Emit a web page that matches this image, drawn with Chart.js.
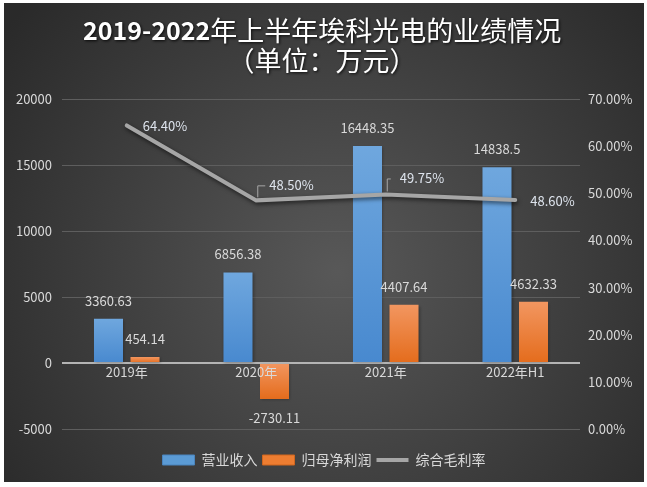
<!DOCTYPE html>
<html>
<head>
<meta charset="UTF-8">
<title>埃科光电业绩情况</title>
<script src="https://cdn.jsdelivr.net/npm/chart.js@4.4.0/dist/chart.umd.min.js"></script>
<style>
  html, body { margin: 0; padding: 0; background: #ffffff; }
  /* 暗色图表区域，四周留一圈白边 */
  #container { position: absolute; left: 4px; top: 3px; width: 640px; height: 479px; }
</style>
</head>
<body>
<div id="container"><canvas id="canvas"></canvas></div>
<script>
const titleLines = ['2019-2022年上半年埃科光电的业绩情况', '（单位：万元）'];
const years = ['2019年', '2020年', '2021年', '2022年H1'];
const revenue = [3360.63, 6856.38, 16448.35, 14838.5];     // 营业收入
const netProfit = [454.14, -2730.11, 4407.64, 4632.33];   // 归母净利润
const grossMargin = [64.40, 48.50, 49.75, 48.60];         // 综合毛利率 (%)
const leftTicks = [-5000, 0, 5000, 10000, 15000, 20000];
const rightTicks = [0, 10, 20, 30, 40, 50, 60, 70];

const FONT = '"Noto Sans CJK SC", "Noto Sans", sans-serif';
const TEXT = '#d9d9d9';

Chart.defaults.font.family = FONT;
Chart.defaults.font.size = 13;
Chart.defaults.color = TEXT;

// 每根柱子自己的竖向渐变（上浅下深）
function barFill(top, bottom) {
  return function(c) {
    const chart = c.chart;
    if (c.type !== 'data' || !chart.chartArea) return top;
    const ys = chart.scales.y;
    const v = c.raw;
    const y0 = ys.getPixelForValue(Math.max(v, 0));
    const y1 = ys.getPixelForValue(Math.min(v, 0));
    if (!isFinite(y0) || !isFinite(y1) || y1 - y0 < 1) return top;
    const g = chart.ctx.createLinearGradient(0, y0, 0, y1);
    g.addColorStop(0, top);
    g.addColorStop(1, bottom);
    return g;
  };
}

// 背景 + 标题
const backdrop = {
  id: 'backdrop',
  beforeDraw(chart) {
    const {ctx, width, height} = chart;
    ctx.save();
    const g = ctx.createRadialGradient(width * 0.52, height * 0.56, 0, width * 0.52, height * 0.56, width * 0.64);
    g.addColorStop(0, '#585858');
    g.addColorStop(1, '#2a2a2a');
    ctx.fillStyle = g;
    ctx.fillRect(0, 0, width, height);

    ctx.shadowColor = 'rgba(0,0,0,0.85)';
    ctx.shadowBlur = 3;
    ctx.shadowOffsetX = 1;
    ctx.shadowOffsetY = 1;
    ctx.fillStyle = '#ffffff';
    ctx.textBaseline = 'middle';
    ctx.textAlign = 'left';
    const rowsY = [27.5, 58];
    titleLines.forEach((line, i) => {
      const m = line.match(/^[\d\-]+/);
      const head = m ? m[0] : '';
      const rest = line.slice(head.length);
      const boldFont = 'bold 25px ' + FONT;
      const normFont = 'normal 27px ' + FONT;
      ctx.font = boldFont;
      const w1 = ctx.measureText(head).width;
      ctx.font = normFont;
      const w2 = ctx.measureText(rest).width;
      const x = 318 - (w1 + w2) / 2;
      const y = rowsY[i];
      ctx.font = boldFont;
      ctx.fillText(head, x, y);
      ctx.font = normFont;
      ctx.fillText(rest, x + w1, y);
    });
    ctx.restore();
  }
};

// 折线阴影
const shadow = {
  id: 'shadow',
  beforeDatasetDraw(chart, args) {
    const ctx = chart.ctx;
    ctx.save();
    if (args.meta.type === 'line') {
      ctx.shadowColor = 'rgba(0,0,0,0.6)';
      ctx.shadowBlur = 4;
      ctx.shadowOffsetX = 1;
      ctx.shadowOffsetY = 2;
    } else {
      ctx.shadowColor = 'rgba(0,0,0,0.3)';
      ctx.shadowBlur = 3;
      ctx.shadowOffsetX = 1;
      ctx.shadowOffsetY = 1;
    }
  },
  afterDatasetDraw(chart) {
    chart.ctx.restore();
  }
};

// 数据标签
const valueLabels = {
  id: 'valueLabels',
  afterDatasetsDraw(chart) {
    const ctx = chart.ctx;
    ctx.save();
    ctx.font = '13px ' + FONT;
    ctx.textBaseline = 'middle';
    ctx.textAlign = 'center';
    ctx.fillStyle = TEXT;
    [0, 1].forEach(di => {
      const vals = chart.data.datasets[di].data;
      chart.getDatasetMeta(di).data.forEach((el, i) => {
        const v = vals[i];
        ctx.fillText(String(v), el.x, v >= 0 ? el.y - 18 : el.y + 19);
      });
    });

    // 折线标签位置（相对点的偏移），部分带引导线
    const place = [
      {dx: 16, dy: 1},
      {dx: 13, dy: -15, lead: 9},
      {dx: 14, dy: -16, lead: 5},
      {dx: 15, dy: 1}
    ];
    const vals = chart.data.datasets[2].data;
    chart.getDatasetMeta(2).data.forEach((pt, i) => {
      const p = place[i];
      if (p.lead) {
        ctx.strokeStyle = '#a6a6a6';
        ctx.lineWidth = 1;
        ctx.beginPath();
        ctx.moveTo(pt.x + 1.5, pt.y - 3);
        ctx.lineTo(pt.x + 1.5, pt.y + p.dy + 0.5);
        ctx.lineTo(pt.x + p.lead, pt.y + p.dy + 0.5);
        ctx.stroke();
      }
      ctx.fillStyle = '#dde3ec';
      ctx.textAlign = 'left';
      ctx.fillText(vals[i].toFixed(2) + '%', pt.x + p.dx, pt.y + p.dy);
    });
    ctx.restore();
  }
};

const legendSwatch = [
  {pointStyle: 'rect', fillStyle: '#5b9bd5', strokeStyle: '#4a84bd', lineWidth: 1},
  {pointStyle: 'rect', fillStyle: '#ed7d31', strokeStyle: '#d0661f', lineWidth: 1},
  {pointStyle: 'line', fillStyle: '#a6a6a6', strokeStyle: '#a6a6a6', lineWidth: 4}
];

new Chart(document.getElementById('canvas'), {
  type: 'bar',
  data: {
    labels: years,
    datasets: [
      {
        label: '营业收入',
        data: revenue,
        backgroundColor: barFill('#6fa7de', '#4889cf'),
        yAxisID: 'y',
        order: 1
      },
      {
        label: '归母净利润',
        data: netProfit,
        backgroundColor: barFill('#f29660', '#e46c1c'),
        yAxisID: 'y',
        order: 1
      },
      {
        type: 'line',
        label: '综合毛利率',
        data: grossMargin,
        borderColor: '#a6a6a6',
        backgroundColor: '#a6a6a6',
        borderWidth: 4,
        borderCapStyle: 'round',
        pointRadius: 0,
        tension: 0,
        yAxisID: 'y1',
        order: 0
      }
    ]
  },
  options: {
    responsive: true,
    maintainAspectRatio: false,
    animation: false,
    categoryPercentage: 0.564,
    barPercentage: 0.795,
    layout: { padding: { top: 96, left: 0, right: 0, bottom: 5 } },
    plugins: {
      title: { display: false },
      tooltip: { enabled: false },
      legend: {
        position: 'bottom',
        labels: {
          color: TEXT,
          font: { size: 14 },
          boxWidth: 32,
          boxHeight: 10,
          padding: 5,
          usePointStyle: true,
          pointStyleWidth: 32,
          sort: (a, b) => a.datasetIndex - b.datasetIndex,
          generateLabels(chart) {
            const items = Chart.defaults.plugins.legend.labels.generateLabels(chart);
            items.forEach(it => Object.assign(it, legendSwatch[it.datasetIndex]));
            return items;
          }
        }
      }
    },
    scales: {
      x: {
        position: 'bottom',
        grid: { display: false, drawTicks: false },
        border: { display: false },
        // 分类标签贴在0轴下方，画在柱子上面
        ticks: { color: TEXT, mirror: true, padding: 49, z: 1 },
        afterFit(s) { s.height = 19; }
      },
      y: {
        position: 'left',
        min: leftTicks[0],
        max: leftTicks[leftTicks.length - 1],
        afterBuildTicks(s) { s.ticks = leftTicks.map(v => ({value: v})); },
        afterFit(s) { s.width = 58; },
        grid: {
          drawTicks: false,
          color: c => (c.tick && c.tick.value === 0) ? '#b4b4b4' : '#5e5e5e',
          lineWidth: c => (c.tick && c.tick.value === 0) ? 2 : 1
        },
        border: { display: false },
        ticks: { color: TEXT, padding: 10, callback: v => String(v) }
      },
      y1: {
        position: 'right',
        min: rightTicks[0],
        max: rightTicks[rightTicks.length - 1],
        afterBuildTicks(s) { s.ticks = rightTicks.map(v => ({value: v})); },
        afterFit(s) { s.width = 64; },
        grid: { display: false, drawOnChartArea: false, drawTicks: false },
        border: { display: false },
        ticks: {
          color: TEXT,
          padding: 8,
          callback: v => v.toFixed(2) + '%'
        }
      }
    }
  },
  plugins: [backdrop, shadow, valueLabels]
});
</script>
</body>
</html>
